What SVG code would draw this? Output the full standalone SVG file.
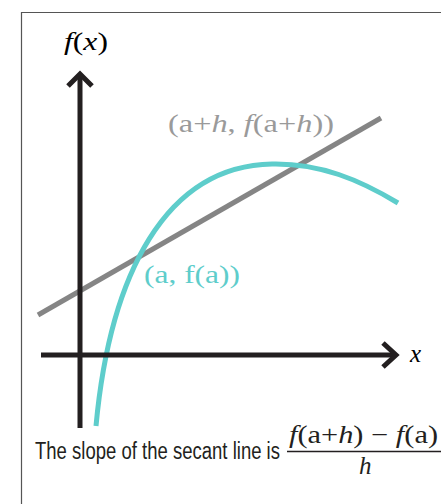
<svg xmlns="http://www.w3.org/2000/svg" width="441" height="504" viewBox="0 0 441 504">
<style>
.math{font-family:"Liberation Serif","DejaVu Serif",serif;font-size:25px}
.it{font-style:italic}
.axis{stroke:#231f20;stroke-width:5;fill:none}
</style>
<rect x="0" y="0" width="441" height="504" fill="#ffffff"/>
<path d="M21.5,504 V12.5 H441" fill="none" stroke="#555555" stroke-width="1.2"/>
<g id="connectors">
<path id="secant" d="M38,315 L381,118" stroke="#858585" stroke-width="5" fill="none"/>
<path id="curve" d="M96,426 C110,275 165,166 272,164 C320,163 360,180 398,203" stroke="#5ecdcb" stroke-width="5" fill="none"/>
</g>
<g id="y-axis">
<path class="axis" d="M80,428 V74"/>
<path class="axis" d="M68,86 L80,74 L92,86"/>
</g>
<g id="x-axis">
<path class="axis" d="M41,355 H396"/>
<path class="axis" d="M383,343 L396,355 L383,367"/>
</g>
<g id="labels">
<text class="math" x="64" y="50" textLength="44" lengthAdjust="spacingAndGlyphs"><tspan class="it">f</tspan>(<tspan class="it">x</tspan>)</text>
<text class="math it" x="410" y="362">x</text>
<text class="math" x="168" y="132" fill="#9a9a9a" textLength="166" lengthAdjust="spacingAndGlyphs">(a+<tspan class="it">h</tspan>, <tspan class="it">f</tspan>(a+<tspan class="it">h</tspan>))</text>
<text class="math" x="144" y="283" fill="#5ecdcb" textLength="96" lengthAdjust="spacingAndGlyphs">(a, f(a))</text>
<text x="35" y="459" font-family="'Liberation Sans Narrow','Liberation Sans',sans-serif" font-size="23" fill="#231f20" textLength="245" lengthAdjust="spacingAndGlyphs">The slope of the secant line is</text>
<text class="math" x="289" y="443" fill="#231f20" textLength="149" lengthAdjust="spacingAndGlyphs"><tspan class="it">f</tspan>(a+<tspan class="it">h</tspan>) − <tspan class="it">f</tspan>(a)</text>
<path d="M287,451.5 H441" stroke="#231f20" stroke-width="1.5"/>
<text class="math it" x="359" y="474" fill="#231f20">h</text>
</g>
</svg>
